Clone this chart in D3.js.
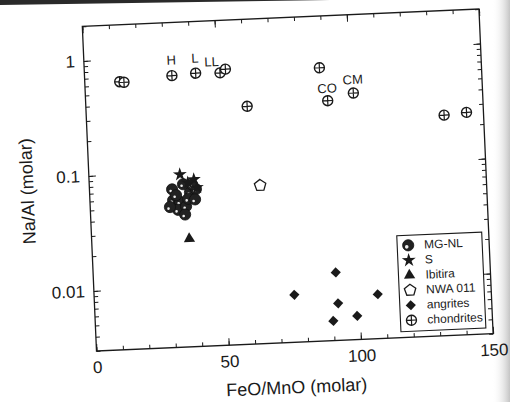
<!DOCTYPE html>
<html>
<head>
<meta charset="utf-8">
<script src="https://cdn.jsdelivr.net/npm/d3@7"></script>
<style>
  html, body { margin: 0; padding: 0; background: #ffffff; }
  svg { display: block; }
  text { font-family: "Liberation Sans", Arial, sans-serif; fill: #1a1a1a; }
</style>
</head>
<body>
<script>
// ---------------- DATA ----------------
const xMajorTicks = [0, 50, 100, 150];
const xMajorLabels = ["0", "50", "100", "150"];
const yMajorTicks = [0.01, 0.1, 1];
const yMajorLabels = ["0.01", "0.1", "1"];
const xTitle = "FeO/MnO (molar)";
const yTitle = "Na/Al (molar)";

const mgnlX = [31.2, 31.4, 34.0, 33.1, 36.2, 37.9, 40.2, 35.4, 37.1, 39.7, 32.6, 30.1, 35.7, 38.8];
const mgnlY = [0.071, 0.057, 0.055, 0.047, 0.050, 0.066, 0.070, 0.078, 0.058, 0.057, 0.063, 0.050, 0.0425, 0.077];

const sX = [34.4, 39.6, 37.3, 40.6];
const sY = [0.095, 0.085, 0.080, 0.072];

const ibitiraX = [36.9];
const ibitiraY = [0.0261];

const nwaX = [64.5];
const nwaY = [0.0712];

const angriteX = [75.6, 91.6, 92.0, 89.9, 99.0, 107.1];
const angriteY = [0.00776, 0.0117, 0.0063, 0.00445, 0.00482, 0.0073];

const chondriteX = [13.2, 14.8, 33.0, 42.0, 51.2, 53.3, 60.9, 88.8, 91.4, 101.2, 135.1, 143.6];
const chondriteY = [0.64, 0.63, 0.69, 0.71, 0.70, 0.75, 0.35, 0.71, 0.365, 0.416, 0.247, 0.256];

// chondrite group labels: name and index of the chondrite point it tags
const groupNames = ["H", "L", "LL", "CO", "CM"];
const groupIndex = [2, 3, 4, 8, 9];

const legendNames = ["MG-NL", "S", "Ibitira", "NWA 011", "angrites", "chondrites"];
const legendKeys = ["mgnl", "star", "tri", "pent", "diamond", "chond"];

// ---------------- LAYOUT ----------------
const W = 397, H = 325;
const ink = "#1a1a1a";

const svg = d3.select("body").append("svg").attr("width", 510).attr("height", 402);

// scan artefacts: page edge at top, shading on right
const defs = svg.append("defs");
const grad = defs.append("linearGradient").attr("id", "shade").attr("x1", 0).attr("x2", 1).attr("y1", 0).attr("y2", 0);
grad.append("stop").attr("offset", "0%").attr("stop-color", "#ffffff").attr("stop-opacity", 0);
grad.append("stop").attr("offset", "100%").attr("stop-color", "#c4c4c4").attr("stop-opacity", 1);
svg.append("rect").attr("x", 492).attr("y", 0).attr("width", 18).attr("height", 402).attr("fill", "url(#shade)");
svg.append("path").attr("d", "M0,0 L330,0 L0,5 Z").attr("fill", "#2a2a2a");

const g = svg.append("g").attr("transform", "translate(96.5,351) rotate(-2.5) translate(0,-325)");

const x = d3.scaleLinear().domain([0, 150]).range([0, W]);
const y = d3.scaleLog().domain([0.003, 2]).range([H, 0]);

const xMinor = d3.range(0, 151, 10);
const yMinor = [];
[0.001, 0.01, 0.1, 1].forEach(dec => { for (let k = 1; k <= 9; k++) { const v = +(dec * k).toPrecision(3); if (v >= 0.003 && v <= 2) yMinor.push(v); } });

function styleAxis(sel) {
  sel.select(".domain").remove();
  sel.selectAll(".tick line").attr("stroke", ink).attr("stroke-width", 1);
  sel.selectAll(".tick text").attr("font-size", 17).style("fill", ink);
}

// minor ticks on all four sides
g.append("g").attr("transform", `translate(0,${H})`).call(d3.axisBottom(x).tickValues(xMinor).tickSize(-4).tickFormat("")).call(styleAxis);
g.append("g").call(d3.axisTop(x).tickValues(xMinor).tickSize(-4).tickFormat("")).call(styleAxis);
g.append("g").call(d3.axisLeft(y).tickValues(yMinor).tickSize(-4).tickFormat("")).call(styleAxis);
g.append("g").attr("transform", `translate(${W},0)`).call(d3.axisRight(y).tickValues(yMinor).tickSize(-4).tickFormat("")).call(styleAxis);

// major ticks with labels
g.append("g").attr("transform", `translate(0,${H})`)
  .call(d3.axisBottom(x).tickValues(xMajorTicks).tickSize(-7).tickPadding(10).tickFormat((d, i) => xMajorLabels[i]))
  .call(styleAxis);
g.append("g").call(d3.axisTop(x).tickValues(xMajorTicks).tickSize(-7).tickFormat("")).call(styleAxis);
g.append("g")
  .call(d3.axisLeft(y).tickValues(yMajorTicks).tickSize(-7).tickPadding(9).tickFormat((d, i) => yMajorLabels[i]))
  .call(styleAxis);
g.append("g").attr("transform", `translate(${W},0)`).call(d3.axisRight(y).tickValues(yMajorTicks).tickSize(-7).tickFormat("")).call(styleAxis);

// frame
g.append("rect").attr("x", 0).attr("y", 0).attr("width", W).attr("height", H)
  .attr("fill", "none").attr("stroke", ink).attr("stroke-width", 1.3);

// titles
g.append("text").attr("x", W / 2).attr("y", H + 51).attr("text-anchor", "middle")
  .attr("font-size", 18).text(xTitle);
g.append("text").attr("transform", `translate(-62,${H / 2}) rotate(-90)`).attr("text-anchor", "middle")
  .attr("dominant-baseline", "central").attr("font-size", 18).text(yTitle);

// ---------------- SYMBOLS ----------------
const starPath = d3.symbol().type(d3.symbolStar).size(60)();
const triPath = d3.symbol().type(d3.symbolTriangle).size(55)();
const diaPath = d3.symbol().type(d3.symbolSquare).size(52)();
function pentPath(r) {
  const pts = d3.range(5).map(i => { const a = -Math.PI / 2 + i * 2 * Math.PI / 5; return [r * Math.cos(a), r * Math.sin(a)]; });
  return "M" + pts.map(p => p.join(",")).join("L") + "Z";
}

function drawSymbol(sel, key, legend) {
  if (key === "mgnl") {
    sel.append("circle").attr("r", 5.6).attr("fill", "#222").attr("stroke", "#111").attr("stroke-width", 0.8);
    sel.append("circle").attr("r", legend ? 1.8 : 1.3).attr("cx", -1.5).attr("cy", 1.5).attr("fill", "#eeeeee");
  } else if (key === "star") {
    sel.append("path").attr("d", starPath).attr("fill", ink);
  } else if (key === "tri") {
    sel.append("path").attr("d", triPath).attr("fill", ink);
  } else if (key === "pent") {
    sel.append("path").attr("d", pentPath(6)).attr("fill", "#fff").attr("stroke", ink).attr("stroke-width", 1.3);
  } else if (key === "diamond") {
    sel.append("path").attr("d", diaPath).attr("transform", "rotate(45)").attr("fill", ink);
  } else if (key === "chond") {
    sel.append("circle").attr("r", 5).attr("fill", "#fff").attr("stroke", ink).attr("stroke-width", 1.4);
    sel.append("path").attr("d", "M-5,0H5M0,-5V5").attr("stroke", ink).attr("stroke-width", 1.2);
  }
}

function plotSeries(xs, ys, key) {
  const sel = g.append("g").selectAll("g").data(xs.map((v, i) => [v, ys[i]])).join("g")
    .attr("transform", d => `translate(${x(d[0])},${y(d[1])})`);
  sel.each(function () { drawSymbol(d3.select(this), key, false); });
}

plotSeries(chondriteX, chondriteY, "chond");
plotSeries(angriteX, angriteY, "diamond");
plotSeries(nwaX, nwaY, "pent");
plotSeries(ibitiraX, ibitiraY, "tri");
plotSeries(mgnlX, mgnlY, "mgnl");
plotSeries(sX, sY, "star");

// group labels on chondrites
const labOff = { H: [0, -11], L: [0, -10.5], LL: [-8, -7], CO: [0, -8], CM: [0, -9] };
groupNames.forEach((nm, i) => {
  const j = groupIndex[i];
  g.append("text").attr("x", x(chondriteX[j]) + labOff[nm][0]).attr("y", y(chondriteY[j]) + labOff[nm][1])
    .attr("text-anchor", "middle").attr("font-size", 13).text(nm);
});

// ---------------- LEGEND ----------------
const lg = g.append("g").attr("transform", `translate(305,${H - 102})`);
lg.append("rect").attr("width", 85).attr("height", 96).attr("fill", "#fff").attr("stroke", ink).attr("stroke-width", 1.1);
legendNames.forEach((nm, i) => {
  const row = lg.append("g").attr("transform", `translate(0,${10 + i * 15})`);
  const s = row.append("g").attr("transform", "translate(11,0)");
  drawSymbol(s, legendKeys[i], true);
  row.append("text").attr("x", 27).attr("y", 0).attr("dominant-baseline", "central").attr("font-size", 12).text(nm);
});
</script>
</body>
</html>
